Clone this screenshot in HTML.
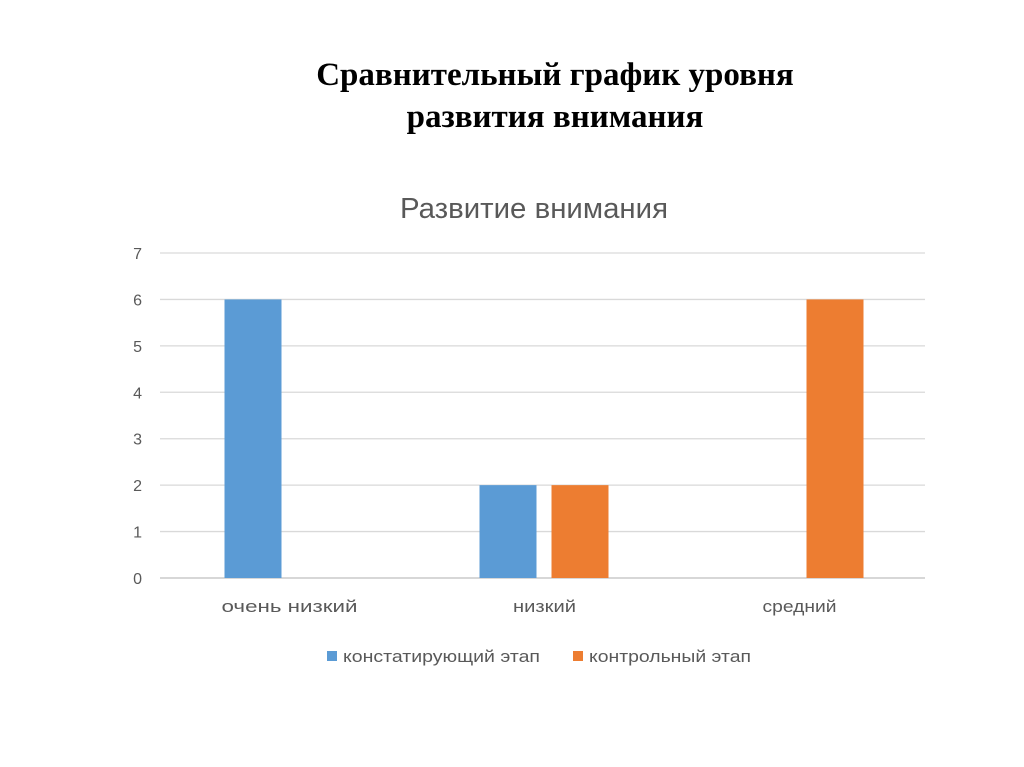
<!DOCTYPE html>
<html><head><meta charset="utf-8"><style>
body{margin:0;width:1024px;height:767px;background:#fff;overflow:hidden;position:relative;font-family:"Liberation Sans","DejaVu Sans",sans-serif}
.t{position:absolute;left:0;width:1110px;text-align:center;font-family:"Liberation Serif",serif;font-weight:bold;font-size:33px;color:#000}
</style></head><body>
<div class="t" style="top:57px">Сравнительный график уровня</div>
<div class="t" style="top:99px">развития внимания</div>
<svg id="c" width="1024" height="767" style="position:absolute;left:0;top:0"></svg>
<script>
const categories=["очень низкий","низкий","средний"];
const seriesA=[6,2,0];
const seriesB=[0,2,6];
const ticks=[0,1,2,3,4,5,6,7];
const seriesNames=["констатирующий этап","контрольный этап"];
const colors=["#5b9bd5","#ed7d31"];
const svg=document.getElementById('c');const NS="http://www.w3.org/2000/svg";
const x0=160,x1=925,yb=578,yt=253,ymax=7;
const y=v=>yb-(yb-yt)*v/ymax;
const bw=(x1-x0)/categories.length;
function mk(t,a,txt){const e=document.createElementNS(NS,t);for(const k in a)e.setAttribute(k,a[k]);if(txt!=null)e.textContent=txt;svg.appendChild(e);return e;}
let e=mk('text',{x:534,y:218,'text-anchor':'middle','font-size':29,fill:'#595959',textLength:268,lengthAdjust:'spacingAndGlyphs'},'Развитие внимания');


ticks.forEach(t=>{
 let l=mk('line',{x1:x0,x2:x1,y1:y(t),y2:y(t),stroke:t==0?'#bfbfbf':'#d9d9d9','stroke-width':1.3});
 
 
 let tx=mk('text',{x:142,y:y(t)+6,'text-anchor':'end','font-size':16,fill:'#595959'},t);
 
 
});
const labelW=[136,63,74];
categories.forEach((c,i)=>{
 const cx=x0+bw*(i+0.5);
 [seriesA,seriesB].forEach((s,j)=>{
  const bx=cx-63+j*72;
  let r=mk('rect',{x:bx,y:y(s[i]),width:57,height:yb-y(s[i]),fill:colors[j]});
  
  
 });
 let tx=mk('text',{x:cx+2,y:612,'text-anchor':'middle','font-size':17,fill:'#595959',textLength:labelW[i],lengthAdjust:'spacingAndGlyphs'},c);
 
 
});
[[327,343,197],[573,589,162]].forEach((p,j)=>{
 let r=mk('rect',{x:p[0],y:651,width:10,height:10,fill:colors[j]});
 
 
 let tx=mk('text',{x:p[1],y:662,'font-size':17,fill:'#595959',textLength:p[2],lengthAdjust:'spacingAndGlyphs'},seriesNames[j]);
 
 
});
</script>
</body></html>
